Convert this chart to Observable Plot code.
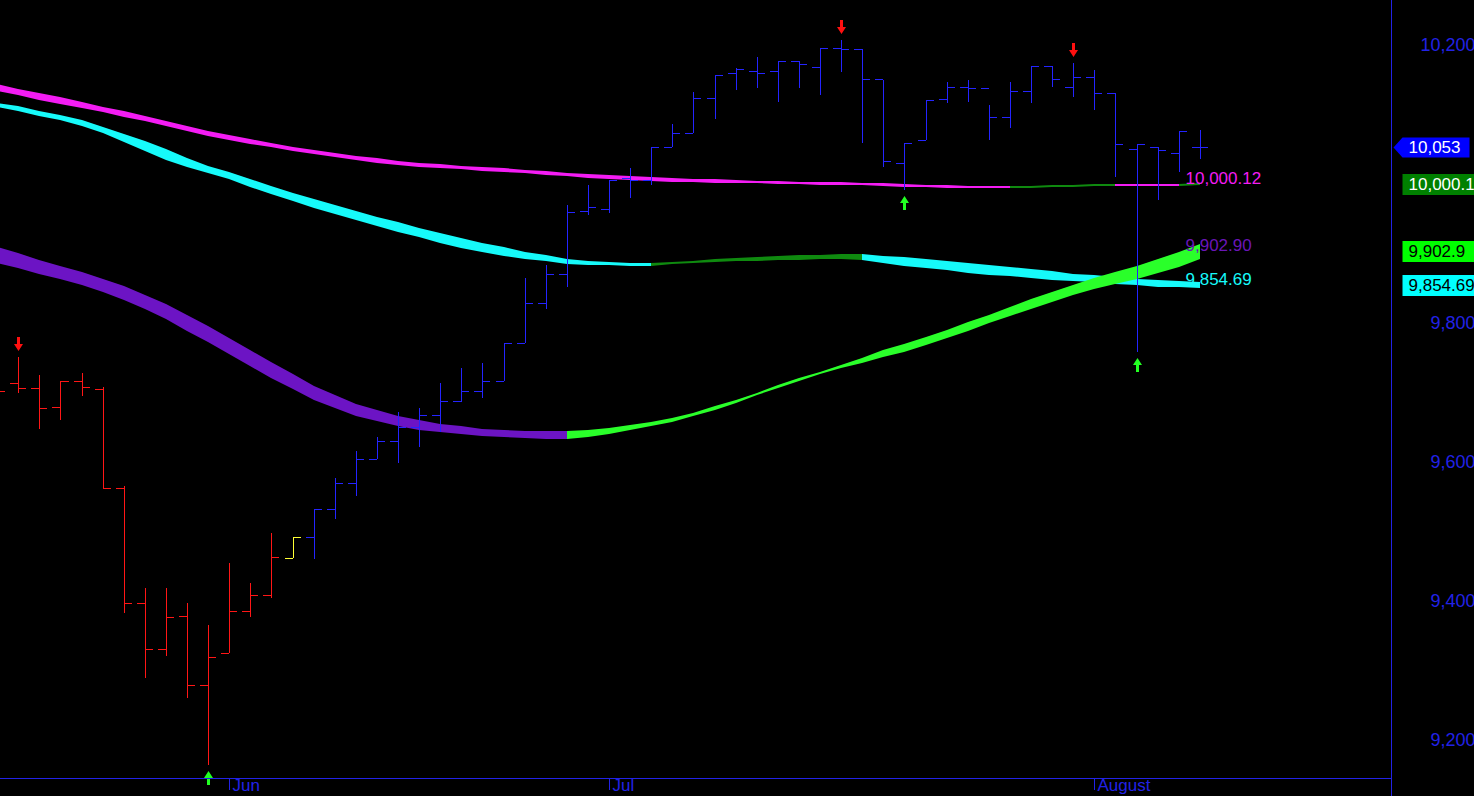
<!DOCTYPE html>
<html>
<head>
<meta charset="utf-8">
<script src="https://cdn.jsdelivr.net/npm/d3@7"></script>
<script src="https://cdn.jsdelivr.net/npm/@observablehq/plot@0.6"></script>
<style>
html, body { margin: 0; padding: 0; background: #000; overflow: hidden; }
#chart svg { display: block; }
</style>
</head>
<body>
<div id="chart"></div>
<script>
// ---------------- DATA ----------------
// bar numbers (trading-day index), -1 is the partly hidden bar at the left edge
const barNo = d3.range(-1, 57);

const open = [9710.8, 9713.2, 9706.9, 9678.7, 9716.1, 9705.0, 9562.1, 9396.7, 9331.4, 9378.0, 9278.7,
  9324.7, 9385.6, 9408.6, 9461.4, 9491.6, 9532.0, 9570.2, 9604.3, 9630.6, 9650.8,
  9667.6, 9687.7, 9702.1, 9716.9, 9771.6, 9828.7, 9870.0, 9961.1, 9963.6, 10009.0,
  10005.7, 10052.8, 10072.9, 10123.3, 10159.2, 10163.0, 10163.0, 10176.9, 10167.9, 10195.2,
  10193.8, 10150.6, 10029.7, 10063.3, 10121.8, 10140.0, 10137.7, 10096.8, 10134.2, 10169.7,
  10140.0, 10153.5, 10131.3, 10049.9, 10053.6, 10045.0, 10053.6];
const high = [9725.1, 9751.5, 9725.1, 9716.9, 9727.6, 9708.3, 9565.4, 9418.2, 9418.2, 9396.7, 9365.5,
  9454.2, 9426.3, 9497.4, 9491.6, 9532.0, 9576.5, 9616.2, 9635.5, 9672.3, 9677.2,
  9714.1, 9734.8, 9742.8, 9771.6, 9864.7, 9883.4, 9969.7, 9998.5, 10005.7, 10022.5,
  10052.8, 10086.3, 10132.8, 10156.8, 10166.4, 10182.3, 10177.4, 10176.9, 10195.2, 10207.2,
  10193.8, 10149.6, 10059.4, 10120.8, 10147.1, 10149.6, 10113.6, 10147.1, 10169.7, 10169.7,
  10173.6, 10164.0, 10131.3, 10057.5, 10053.6, 10076.6, 10077.7];
const low = [9689.2, 9698.8, 9647.0, 9660.4, 9694.9, 9562.1, 9382.3, 9288.8, 9320.8, 9260.0, 9164.0,
  9324.7, 9377.4, 9405.0, 9461.4, 9460.0, 9517.5, 9551.1, 9603.9, 9598.1, 9621.1,
  9643.6, 9686.0, 9691.6, 9716.9, 9771.2, 9819.6, 9851.3, 9955.4, 9957.8, 9979.4,
  9998.5, 10052.8, 10072.9, 10093.1, 10135.2, 10137.7, 10118.4, 10137.7, 10128.0, 10161.5,
  10058.5, 10024.9, 9991.3, 10063.3, 10116.1, 10118.4, 10063.3, 10080.1, 10116.1, 10139.1,
  10125.6, 10106.4, 10010.5, 9758.7, 9977.0, 10017.7, 10035.5];
const close = [9702.1, 9706.9, 9677.2, 9716.1, 9707.5, 9563.0, 9396.7, 9331.4, 9377.4, 9278.7, 9319.0,
  9385.6, 9408.6, 9463.7, 9491.6, 9532.0, 9570.2, 9604.3, 9630.6, 9650.8, 9667.6,
  9687.7, 9702.1, 9716.9, 9771.6, 9828.7, 9870.0, 9960.1, 9967.3, 10005.7, 10005.7,
  10052.8, 10072.9, 10123.3, 10156.8, 10165.0, 10160.1, 10176.9, 10172.6, 10195.2, 10193.8,
  10150.6, 10033.5, 10059.4, 10120.8, 10140.0, 10137.7, 10096.8, 10134.2, 10169.7, 10150.6,
  10153.5, 10131.3, 10057.1, 10057.1, 10048.9, 10076.6, 10053.0];
// trend state of each bar
const trend = [
  "down", "down", "down", "down", "down", "down", "down", "down", "down", "down", "down", "down", "down", "down",
  "flat",
  "up", "up", "up", "up", "up", "up", "up", "up", "up", "up", "up", "up", "up", "up", "up",
  "up", "up", "up", "up", "up", "up", "up", "up", "up", "up", "up", "up", "up", "up", "up",
  "up", "up", "up", "up", "up", "up", "up", "up", "up", "up", "up", "up", "up"];

// signal arrows (bar numbers)
const sellSignals = [0, 39, 50];
const buySignals = [9, 42, 53];

// moving averages (centre value and band spread), one value per bar
const maLong = [10138.5, 10132.3, 10125.9, 10120.1, 10113.6, 10107.2, 10100.7, 10094.2, 10087.0, 10079.8, 10072.6,
  10066.9, 10061.1, 10056.1, 10050.3, 10046.0, 10041.7, 10037.4, 10033.8, 10030.2, 10027.7,
  10025.9, 10023.7, 10021.5, 10019.7, 10017.9, 10015.8, 10013.6, 10011.5, 10010.0, 10008.6,
  10007.2, 10005.7, 10005.0, 10004.3, 10003.6, 10002.8, 10002.1, 10001.4, 10001.0, 10000.4,
  10000.0, 9999.2, 9998.1, 9997.1, 9996.4, 9995.9, 9995.7, 9995.5, 9995.9, 9996.6,
  9997.4, 9998.2, 9999.0, 9998.8, 9998.6, 9998.4, 10000.12];
const maLongSpread = [9.5, 9.3, 9.1, 8.9, 8.7, 8.5, 8.3, 8.1, 7.9, 7.7, 7.5,
  7.3, 7.1, 6.9, 6.7, 6.5, 6.3, 6.1, 6.0, 5.9, 5.8,
  5.7, 5.6, 5.5, 5.4, 5.3, 5.2, 5.1, 5.0, 4.9, 4.8,
  4.7, 4.6, 4.5, 4.4, 4.3, 4.2, 4.1, 4.0, 3.9, 3.8,
  3.7, 3.6, 3.5, 3.4, 3.3, 3.2, 3.1, 3.0, 2.9, 2.8,
  2.8, 2.8, 2.8, 2.8, 2.8, 2.8, 2.8];
const maMid = [10113.9, 10108.6, 10102.1, 10095.6, 10087.7, 10077.7, 10066.1, 10054.6, 10042.4, 10030.9, 10021.5,
  10011.5, 10001.4, 9991.3, 9981.3, 9971.9, 9963.3, 9954.6, 9946.0, 9938.1, 9930.2,
  9922.3, 9915.1, 9908.6, 9902.8, 9897.1, 9892.8, 9888.5, 9886.3, 9885.1, 9884.6,
  9884.4, 9886.0, 9887.7, 9889.5, 9891.0, 9892.3, 9893.5, 9894.2, 9894.8, 9895.1,
  9895.2, 9891.3, 9888.5, 9885.6, 9882.7, 9879.8, 9876.9, 9874.1, 9871.2, 9868.3,
  9865.7, 9863.3, 9861.1, 9859.0, 9857.2, 9855.8, 9854.69];
const maMidSpread = [5.8, 6.5, 7.2, 7.9, 8.6, 9.6, 11.5, 13.7, 14.4, 12.2, 10.1,
  10.1, 10.8, 11.5, 11.5, 11.9, 12.2, 12.7, 13.0, 13.5, 13.8,
  14.1, 13.7, 13.0, 12.2, 10.8, 8.6, 6.5, 5.0, 4.3, 3.9,
  3.6, 3.6, 4.0, 4.3, 4.7, 5.2, 5.8, 6.0, 6.2, 6.9,
  7.9, 11.1, 12.2, 13.0, 13.7, 14.4, 14.4, 13.7, 13.0, 11.9,
  10.8, 10.1, 9.8, 9.5, 9.5, 9.5, 9.5];
const maShort = [9897.8, 9889.2, 9880.5, 9872.6, 9864.7, 9854.6, 9843.1, 9830.2, 9815.8, 9800.0, 9784.1,
  9766.9, 9749.6, 9732.3, 9715.1, 9699.3, 9686.3, 9674.8, 9666.2, 9659.0, 9653.2,
  9648.9, 9645.3, 9642.4, 9641.0, 9639.8, 9639.3, 9638.8, 9641.0, 9644.6, 9649.6,
  9654.6, 9660.4, 9668.3, 9677.7, 9687.7, 9697.8, 9707.9, 9718.0, 9728.0, 9737.4,
  9746.7, 9755.4, 9764.0, 9774.1, 9784.1, 9794.9, 9805.7, 9816.5, 9827.3, 9837.4,
  9847.4, 9857.5, 9865.4, 9873.3, 9882.0, 9891.3, 9902.90];
const maShortSpread = [21.6, 21.6, 20.1, 19.4, 18.7, 18.7, 19.4, 20.1, 21.6, 23.0, 23.7,
  23.7, 23.0, 22.3, 21.6, 20.1, 18.7, 17.3, 15.8, 15.1, 14.4,
  12.9, 11.5, 10.1, 10.1, 10.8, 11.5, 12.4, 10.8, 8.6, 7.2,
  6.5, 5.8, 5.0, 4.6, 4.3, 4.0, 4.3, 4.3, 3.6, 5.0,
  7.2, 10.1, 11.9, 11.9, 11.9, 11.9, 11.9, 12.2, 13.0, 13.7,
  14.4, 15.8, 17.3, 18.7, 20.1, 20.9, 21.6];

// labels
const maLabels = ["10,000.12", "9,902.90", "9,854.69"];
const tagLabels = ["10,053", "10,000.1", "9,902.9", "9,854.69"];
const yTicks = [9200, 9400, 9600, 9800, 10200];
const monthTicks = [{bar: 10, label: "Jun"}, {bar: 28, label: "Jul"}, {bar: 51, label: "August"}];

// ---------------- STYLE ----------------
const W = 1474, H = 796;
const M = {top: 0, right: 83, bottom: 18, left: 0};
const xDomain = [-0.867, 65.06];
const yDomain = [9145.3, 10264.7];
const axisBlue = "#2222e6";
const barColors = {down: "#ff1616", flat: "#ffff33", up: "#2424ff"};
const tickW = 0.38; // half-bar tick length in bar units
const C = {
  magenta: "#f41cf4", magentaUp: "#0f8a0f",
  cyan: "#16fafa", cyanUp: "#0f8a0f",
  purple: "#6c14c4", purpleUp: "#2aff2a",
  purpleText: "#6a16b8"
};
const crisp = {shapeRendering: "crispEdges"};

// ---------------- BUILD ----------------
const bars = barNo.map((i, k) => ({
  i, open: open[k], high: high[k], low: low[k], close: close[k], color: barColors[trend[k]]
}));
const barAt = i => bars.find(b => b.i === i);

function bandRuns(name, center, spread, upColor, downColor) {
  const rows = [];
  let run = -1, prev = null;
  const pt = (k, color) => ({
    i: barNo[k], lo: center[k] - spread[k] / 2, hi: center[k] + spread[k] / 2, z: name + run, color
  });
  for (let k = 0; k < center.length - 1; k++) {
    const color = center[k + 1] > center[k] ? upColor : downColor;
    if (color !== prev) { run++; prev = color; rows.push(pt(k, color)); }
    rows.push(pt(k + 1, color));
  }
  return rows;
}
const bandLong = bandRuns("L", maLong, maLongSpread, C.magentaUp, C.magenta);
const bandMid = bandRuns("M", maMid, maMidSpread, C.cyanUp, C.cyan);
const bandShort = bandRuns("S", maShort, maShortSpread, C.purpleUp, C.purple);

const last = barNo.length - 1;
const maEnd = [
  {i: barNo[last], v: maLong[last], text: maLabels[0], color: C.magenta},
  {i: barNo[last], v: maShort[last], text: maLabels[1], color: C.purpleText},
  {i: barNo[last], v: maMid[last], text: maLabels[2], color: C.cyan}
];
const tags = [
  {v: close[last], text: tagLabels[0], bg: "#0000ff", fg: "#ffffff", pointer: true},
  {v: maLong[last], text: tagLabels[1], bg: "#008000", fg: "#ffffff"},
  {v: maShort[last], text: tagLabels[2], bg: "#00ff00", fg: "#000000"},
  {v: maMid[last], text: tagLabels[3], bg: "#00ffff", fg: "#000000"}
];

const downArrow = {draw(c) {
  c.moveTo(-1.5, -7); c.lineTo(1.5, -7); c.lineTo(1.5, 0); c.lineTo(4.5, 0);
  c.lineTo(0, 7); c.lineTo(-4.5, 0); c.lineTo(-1.5, 0); c.closePath();
}};
const upArrow = {draw(c) {
  c.moveTo(-1.5, 7); c.lineTo(1.5, 7); c.lineTo(1.5, 0); c.lineTo(4.5, 0);
  c.lineTo(0, -7); c.lineTo(-4.5, 0); c.lineTo(-1.5, 0); c.closePath();
}};
const pointerTag = {draw(c) {
  c.moveTo(2, 0); c.lineTo(11, -10); c.lineTo(78, -10); c.lineTo(78, 10); c.lineTo(11, 10); c.closePath();
}};
const boxTag = {draw(c) {
  c.moveTo(11, -10.5); c.lineTo(95, -10.5); c.lineTo(95, 10.5); c.lineTo(11, 10.5); c.closePath();
}};

const chart = Plot.plot({
  width: W, height: H,
  marginTop: M.top, marginRight: M.right, marginBottom: M.bottom, marginLeft: M.left,
  style: {background: "#000", color: axisBlue, fontFamily: "'Liberation Sans', Arial, sans-serif", fontSize: "17px"},
  x: {domain: xDomain, axis: null, round: true},
  y: {domain: yDomain, axis: null, round: true},
  color: {type: "identity"},
  marks: [
    // moving-average bands
    Plot.areaY(bandLong, {x: "i", y1: "lo", y2: "hi", z: "z", fill: "color"}),
    Plot.areaY(bandMid, {x: "i", y1: "lo", y2: "hi", z: "z", fill: "color"}),
    Plot.areaY(bandShort, {x: "i", y1: "lo", y2: "hi", z: "z", fill: "color"}),
    // OHLC bars
    Plot.ruleX(bars, {x: "i", y1: "low", y2: "high", stroke: "color", strokeWidth: 1, ...crisp}),
    Plot.ruleY(bars, {x1: d => d.i - tickW, x2: "i", y: "open", stroke: "color", strokeWidth: 1, ...crisp}),
    Plot.ruleY(bars, {x1: "i", x2: d => d.i + tickW, y: "close", stroke: "color", strokeWidth: 1, ...crisp}),
    // signal arrows
    Plot.dot(sellSignals.map(barAt), {x: "i", y: "high", symbol: downArrow, fill: "#ff1010", stroke: "none", dy: -13.5}),
    Plot.dot(buySignals.map(barAt), {x: "i", y: "low", symbol: upArrow, fill: "#22ff22", stroke: "none", dy: 12.5}),
    // MA end labels
    Plot.text(maEnd, {x: "i", y: "v", text: "text", fill: "color", textAnchor: "start", dx: -15, dy: -6, fontSize: 17}),
    // axes
    Plot.ruleY([yDomain[0]], {stroke: axisBlue, strokeWidth: 1, ...crisp}),
    Plot.ruleX([xDomain[1]], {stroke: axisBlue, strokeWidth: 1, insetBottom: -M.bottom, ...crisp}),
    Plot.text(yTicks, {y: d => d, text: d => d3.format(",")(d), frameAnchor: "right", dx: 84, textAnchor: "end", fill: axisBlue, fontSize: 18}),
    Plot.ruleX(monthTicks, {x: "bar", stroke: axisBlue, insetTop: H - M.bottom - M.top, insetBottom: -12, ...crisp}),
    Plot.text(monthTicks, {x: "bar", text: "label", frameAnchor: "bottom", dx: 3, dy: 12, textAnchor: "start", fill: axisBlue, fontSize: 17}),
    // value tags on the price axis
    Plot.dot(tags.filter(d => d.pointer), {y: "v", frameAnchor: "right", symbol: pointerTag, fill: "bg", stroke: "none"}),
    Plot.dot(tags.filter(d => !d.pointer), {y: "v", frameAnchor: "right", symbol: boxTag, fill: "bg", stroke: "none"}),
    Plot.text(tags, {y: "v", text: "text", frameAnchor: "right", dx: 17, textAnchor: "start", fill: "fg", fontSize: 17})
  ]
});
document.getElementById("chart").appendChild(chart);
</script>
</body>
</html>
